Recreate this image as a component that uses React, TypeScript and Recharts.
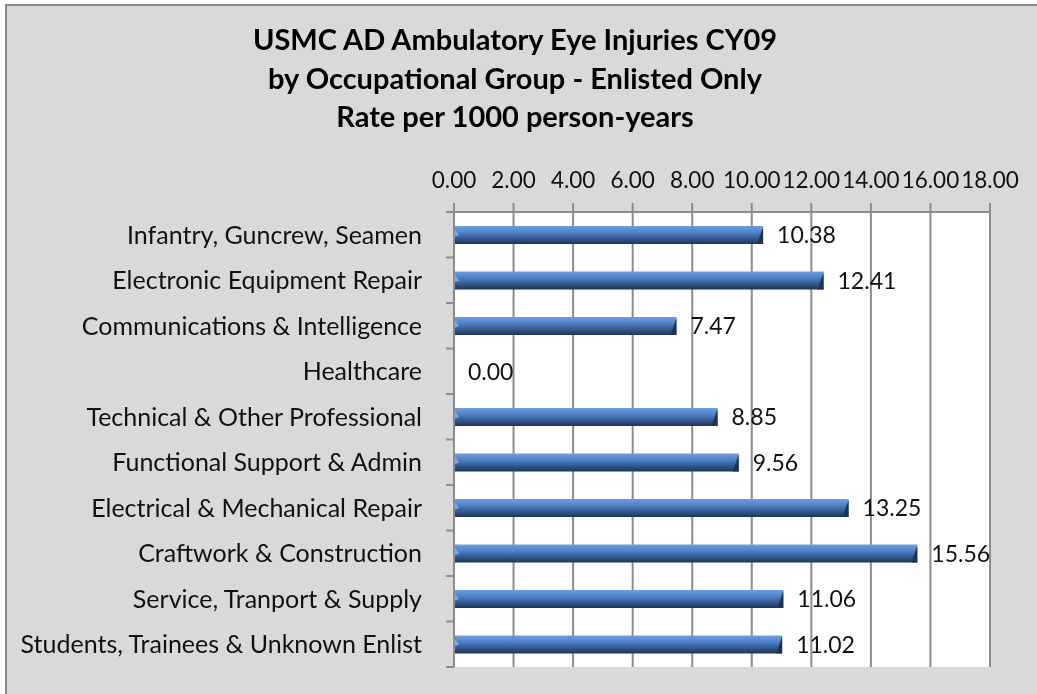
import React from "react";
import {
  BarChart,
  Bar,
  XAxis,
  YAxis,
  CartesianGrid,
  LabelList
} from "recharts";

const categories = [
  "Infantry, Guncrew, Seamen",
  "Electronic Equipment Repair",
  "Communications & Intelligence",
  "Healthcare",
  "Technical & Other Professional",
  "Functional Support & Admin",
  "Electrical & Mechanical Repair",
  "Craftwork & Construction",
  "Service, Tranport & Supply",
  "Students, Trainees & Unknown Enlist"
];

const rates = [10.38, 12.41, 7.47, 0.0, 8.85, 9.56, 13.25, 15.56, 11.06, 11.02];

const xTicks = [0, 2, 4, 6, 8, 10, 12, 14, 16, 18];

const titleLines = [
  "USMC AD Ambulatory Eye Injuries CY09",
  "by Occupational Group - Enlisted Only",
  "Rate per 1000 person-years"
];

const data = categories.map((name, i) => ({ name, rate: rates[i] }));

const FONT = "Lato, 'Open Sans', sans-serif";
const GRID = "#8c8c8c";
const Y_TICK = 8;
const Y_MARGIN = 24;

function CategoryTick(props: any) {
  const { x, y, payload, index, visibleTicksCount } = props;
  const half = payload && payload.offset ? payload.offset : 22.75;
  const axisX = x + Y_TICK + Y_MARGIN;
  const last = index === (visibleTicksCount ?? categories.length) - 1;
  return (
    <g>
      <line x1={axisX - Y_TICK} x2={axisX} y1={y - half} y2={y - half} stroke={GRID} strokeWidth={2} />
      {last && (
        <line x1={axisX - Y_TICK} x2={axisX} y1={y + half} y2={y + half} stroke={GRID} strokeWidth={2} />
      )}
      <text x={x} y={y} dy="0.35em" textAnchor="end" fontSize={25} fill="#111" fontFamily={FONT}>
        {payload.value}
      </text>
    </g>
  );
}

function BevelBar(props: any) {
  const { x, y, width, height } = props;
  if (!width || width <= 0) return null;
  const cap = Math.min(6, width);
  return (
    <g>
      <rect x={x} y={y} width={width} height={height} fill="url(#barGrad)" />
      <polygon
        points={`${x + width - cap},${y + height} ${x + width},${y + 1} ${x + width},${y + height}`}
        fill="#1b3354"
      />
      <polygon
        points={`${x},${y + 2} ${x + 5},${y + height / 2} ${x},${y + height / 2 + 2}`}
        fill="#7fa9e3"
      />
    </g>
  );
}

export default function App() {
  return (
    <div style={{ position: "fixed", left: 0, top: 0, width: 1037, height: 694, overflow: "hidden" }}>
      <div
        style={{
          position: "absolute",
          left: 5,
          top: 4,
          width: 1100,
          height: 800,
          background: "#d9d9d9",
          borderLeft: "2px solid #878787",
          borderTop: "2px solid #878787"
        }}
      />
      <div
        style={{
          position: "absolute",
          left: 0,
          top: 20,
          width: 1030,
          textAlign: "center",
          fontFamily: FONT,
          fontWeight: 700,
          fontSize: 29,
          lineHeight: "38.5px",
          color: "#000"
        }}
      >
        {titleLines.map((t) => (
          <div key={t}>{t}</div>
        ))}
      </div>
      <div style={{ position: "absolute", left: 0, top: 0 }}>
        <BarChart
          width={1037}
          height={694}
          data={data}
          layout="vertical"
          margin={{ top: 162, right: 47, bottom: 27, left: 0 }}
        >
          <defs>
            <linearGradient id="barGrad" x1="0" y1="0" x2="0" y2="1">
              <stop offset="0%" stopColor="#6f9ee0" />
              <stop offset="35%" stopColor="#4f82c8" />
              <stop offset="60%" stopColor="#3a649f" />
              <stop offset="100%" stopColor="#1d3558" />
            </linearGradient>
          </defs>
          <CartesianGrid horizontal={false} stroke={GRID} strokeWidth={2} fill="#ffffff" />
          <XAxis
            type="number"
            orientation="top"
            domain={[0, 18]}
            ticks={xTicks}
            interval={0}
            height={50}
            tickSize={9}
            tickMargin={15}
            axisLine={{ stroke: GRID, strokeWidth: 2 }}
            tickLine={{ stroke: GRID, strokeWidth: 2 }}
            tickFormatter={(v: number) => v.toFixed(2)}
            tick={{ fontSize: 22.5, fill: "#111", fontFamily: FONT }}
          />
          <YAxis
            type="category"
            dataKey="name"
            width={454}
            interval={0}
            tickSize={Y_TICK}
            tickMargin={Y_MARGIN}
            tickLine={false}
            axisLine={{ stroke: GRID, strokeWidth: 2 }}
            tick={<CategoryTick />}
          />
          <Bar dataKey="rate" barSize={18} shape={<BevelBar />} isAnimationActive={false}>
            <LabelList
              dataKey="rate"
              position="right"
              offset={14}
              formatter={(v: any) => Number(v).toFixed(2)}
              style={{ fontSize: 23, fill: "#111", fontFamily: FONT }}
            />
          </Bar>
        </BarChart>
      </div>
    </div>
  );
}
